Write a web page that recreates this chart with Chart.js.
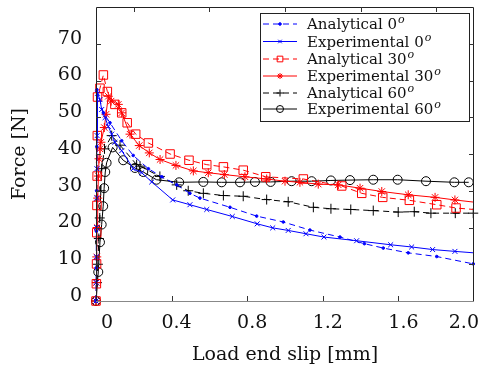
<!DOCTYPE html>
<html>
<head>
<meta charset="utf-8">
<script src="https://cdn.jsdelivr.net/npm/chart.js@4/dist/chart.umd.min.js"></script>
<style>
html,body{margin:0;padding:0;background:#fff;}
#wrap{width:484px;height:373px;position:relative;}
</style>
</head>
<body>
<div id="wrap"><canvas id="c" width="484" height="373"></canvas></div>
<script>
const xTickValues = [0, 0.4, 0.8, 1.2, 1.6, 2.0];
const yTickValues = [0, 10, 20, 30, 40, 50, 60, 70];
const seriesNames = ['Analytical 0', 'Experimental 0', 'Analytical 30', 'Experimental 30', 'Analytical 60', 'Experimental 60'];

const an0Slip  = [0, 0.001, 0.002, 0.003, 0.004, 0.005, 0.039, 0.074, 0.136, 0.197, 0.277, 0.348, 0.427, 0.497, 0.55, 0.709, 0.85, 0.991, 1.132, 1.291, 1.42, 1.52, 1.652, 1.803, 1.996];
const an0Force = [0, 9, 19, 30, 42, 57.5, 51.2, 48.5, 43.6, 39.6, 36.0, 33.8, 31.6, 29.3, 28.0, 25.5, 23.1, 21.5, 19.3, 17.4, 15.6, 14.4, 13.1, 12.1, 10.1];

const ex0Slip  = [0, 0.001, 0.002, 0.003, 0.004, 0.005, 0.006, 0.008, 0.021, 0.03, 0.048, 0.065, 0.083, 0.1, 0.136, 0.197, 0.242, 0.295, 0.406, 0.497, 0.586, 0.721, 0.853, 0.935, 1.017, 1.111, 1.206, 1.379, 1.559, 1.670, 1.781, 1.899, 2.0];
const ex0Force = [0, 5, 12, 20, 28, 36, 45, 56.5, 54.8, 52.1, 49.9, 47.5, 45.4, 43.2, 40.9, 36.0, 34.9, 32.4, 27.5, 26.2, 24.9, 23.0, 21.0, 19.9, 19.2, 18.3, 17.4, 16.4, 15.3, 14.7, 14.0, 13.5, 13.1];

const an30Slip  = [0, 0.002, 0.003, 0.004, 0.005, 0.006, 0.007, 0.008, 0.021, 0.039, 0.06, 0.1, 0.136, 0.165, 0.21, 0.277, 0.392, 0.492, 0.586, 0.674, 0.779, 0.898, 1.097, 1.3, 1.406, 1.517, 1.658, 1.803, 1.905, 2.0];
const an30Force = [0, 4.7, 10.1, 18.6, 26, 34, 45, 55.5, 57.9, 61.5, 57.0, 53.5, 51.2, 48.5, 45.4, 43.0, 40.0, 38.3, 37.1, 36.5, 35.6, 33.8, 33.2, 31.3, 29.3, 28.2, 27.4, 26.2, 25.3, 24.9];

const ex30Slip  = [0, 0.002, 0.004, 0.006, 0.009, 0.013, 0.016, 0.021, 0.026, 0.044, 0.053, 0.065, 0.08, 0.118, 0.136, 0.18, 0.229, 0.282, 0.339, 0.423, 0.515, 0.594, 0.679, 0.788, 0.903, 1.0, 1.079, 1.176, 1.282, 1.397, 1.512, 1.652, 1.794, 1.899, 2.0];
const ex30Force = [0, 5, 12, 20, 28, 34, 38.7, 41.4, 43.2, 47.2, 50.8, 55.7, 54.4, 53.5, 51.2, 45.4, 42.3, 40.3, 38.5, 36.9, 35.4, 34.9, 34.4, 33.8, 33.2, 32.6, 32.3, 31.8, 31.6, 30.7, 29.8, 28.9, 28.2, 27.5, 26.9];

const an60Slip  = [0, 0.005, 0.01, 0.015, 0.02, 0.025, 0.03, 0.045, 0.083, 0.127, 0.215, 0.233, 0.338, 0.427, 0.488, 0.568, 0.674, 0.779, 0.903, 1.017, 1.150, 1.243, 1.348, 1.467, 1.599, 1.684, 1.772, 1.901, 1.996];
const an60Force = [0, 5, 10, 17, 22.6, 30, 36, 41.4, 45, 42.4, 37.1, 36.7, 33.9, 31.6, 30.0, 29.3, 28.7, 28.5, 27.6, 27.0, 25.5, 25.1, 24.9, 24.6, 24.2, 24.3, 23.9, 23.9, 23.9];

const ex60Slip  = [0, 0.012, 0.021, 0.030, 0.038, 0.043, 0.049, 0.056, 0.088, 0.144, 0.206, 0.25, 0.32, 0.44, 0.568, 0.665, 0.762, 0.841, 0.924, 1.035, 1.141, 1.243, 1.344, 1.467, 1.596, 1.746, 1.896, 1.972];
const ex60Force = [0, 7.9, 16, 20.8, 25.8, 30.7, 35.1, 37.6, 41.8, 38.3, 36.2, 35.1, 33.0, 32.3, 32.4, 32.3, 32.3, 32.4, 32.4, 32.6, 32.6, 32.8, 32.9, 33.0, 33.0, 32.6, 32.3, 32.3];

function pts(xs, ys){ return xs.map((x,i)=>({x:x, y:ys[i]})); }
const SERIF = '"DejaVu Serif", serif';
const edgeR = r => (ctx => (ctx.raw && ctx.raw.x >= 2.0 ? 0 : r));

const datasets = [
  {label: seriesNames[0], data: pts(an0Slip, an0Force), borderColor:'#0000ff', backgroundColor:'#0000ff', borderDash:[6,4], pointStyle:'circle', pointRadius: 1.3, borderWidth:1},
  {label: seriesNames[1], data: pts(ex0Slip, ex0Force), borderColor:'#0000ff', backgroundColor:'#0000ff', pointStyle:'crossRot', pointRadius: edgeR(3.5), borderWidth:1},
  {label: seriesNames[2], data: pts(an30Slip, an30Force), borderColor:'#ff0000', backgroundColor:'rgba(0,0,0,0)', borderDash:[6,4], pointStyle:'rect', pointRadius: edgeR(6), borderWidth:1},
  {label: seriesNames[3], data: pts(ex30Slip, ex30Force), borderColor:'#ff0000', backgroundColor:'#ff0000', pointStyle:'star', pointRadius: edgeR(4.5), borderWidth:1},
  {label: seriesNames[4], data: pts(an60Slip, an60Force), borderColor:'#000000', backgroundColor:'#000000', borderDash:[6,4], pointStyle:'cross', pointRadius: 5, borderWidth:1},
  {label: seriesNames[5], data: pts(ex60Slip, ex60Force), borderColor:'#000000', backgroundColor:'rgba(0,0,0,0)', pointStyle:'circle', pointRadius: 4.5, borderWidth:1}
];
datasets.forEach(d => { d.showLine = true; d.fill = false; d.tension = 0; d.clip = false; d.pointBorderWidth = 1; d.pointHoverRadius = d.pointRadius; });

const frame = {
  id: 'frame',
  afterDatasetsDraw(chart){
    const {ctx, scales:{x, y}} = chart;
    const a = {left: x.getPixelForValue(0), right: x.getPixelForValue(2), top: y.getPixelForValue(80), bottom: y.getPixelForValue(0)};
    ctx.save();
    ctx.lineWidth = 1;
    ctx.strokeStyle = '#222';
    ctx.beginPath();
    ctx.moveTo(a.left+0.5, a.bottom); ctx.lineTo(a.left+0.5, a.top+0.5);
    ctx.lineTo(a.right-0.5, a.top+0.5); ctx.lineTo(a.right-0.5, a.bottom);
    ctx.stroke();
    ctx.strokeStyle = '#888';
    ctx.beginPath(); ctx.moveTo(a.left, a.bottom+0.5); ctx.lineTo(a.right, a.bottom+0.5); ctx.stroke();
    ctx.strokeStyle = '#333';
    const L = 5;
    ctx.beginPath();
    yTickValues.forEach(v => {
      if (v === 0) return;
      const py = Math.round(y.getPixelForValue(v)) + 0.5;
      ctx.moveTo(a.left, py); ctx.lineTo(a.left + L, py);
      ctx.moveTo(a.right, py); ctx.lineTo(a.right - L, py);
    });
    xTickValues.forEach(v => {
      if (v === 0 || v === 2) return;
      const px = Math.round(x.getPixelForValue(v)) + 0.5;
      ctx.moveTo(px, a.bottom); ctx.lineTo(px, a.bottom - L);
    });
    xTickValues.forEach(v => {
      if (v === 2) return;
      const px = Math.round(x.getPixelForValue(v + 0.2)) + 0.5;
      ctx.moveTo(px, a.top); ctx.lineTo(px, a.top + L);
    });
    ctx.stroke();
    ctx.restore();
  }
};

const legendBox = {
  id: 'legendBox',
  afterDraw(chart){
    const ctx = chart.ctx;
    const bx = 260, by = 13, bw = 209, bh = 108;
    ctx.save();
    ctx.fillStyle = '#fff';
    ctx.fillRect(bx, by, bw, bh);
    ctx.strokeStyle = '#222'; ctx.lineWidth = 1;
    ctx.strokeRect(bx+0.5, by+0.5, bw, bh);
    const rowY = [24, 41.5, 59, 76, 93, 109];
    const rr = [1.3, 2.5, 4, 3, 3.5, 3.5];
    chart.data.datasets.forEach((d, i) => {
      const yy = rowY[i];
      ctx.save();
      ctx.strokeStyle = d.borderColor; ctx.lineWidth = 1;
      ctx.setLineDash(d.borderDash || []);
      ctx.beginPath(); ctx.moveTo(263, yy); ctx.lineTo(297, yy); ctx.stroke();
      ctx.setLineDash([]);
      ctx.fillStyle = d.backgroundColor;
      Chart.helpers.drawPoint(ctx, {pointStyle: d.pointStyle, radius: rr[i], rotation: 0, borderWidth: 1}, 280, yy);
      ctx.restore();
      ctx.fillStyle = '#111';
      ctx.textBaseline = 'alphabetic';
      ctx.font = '15px ' + SERIF;
      const txt = d.label;
      ctx.fillText(txt, 307, yy + 5);
      const w = ctx.measureText(txt).width;
      ctx.font = 'italic 11px ' + SERIF;
      ctx.fillText('o', 307 + w + 1, yy - 1);
    });
    ctx.restore();
  }
};

new Chart(document.getElementById('c'), {
  type: 'scatter',
  data: {datasets},
  options: {
    responsive: false,
    animation: false,
    events: [],
    layout: {padding: {top: 0.5, right: 10, left: 0, bottom: 0}},
    plugins: {legend: {display: false}, tooltip: {enabled: false}},
    scales: {
      x: {
        type: 'linear', min: 0, max: 2,
        afterBuildTicks: s => { s.ticks = xTickValues.map(v => ({value: v})); },
        afterFit: s => { s.height = 72; s.paddingLeft = 0; s.paddingRight = 0; },
        grid: {display: false, drawTicks: false},
        border: {display: false},
        ticks: {padding: 11, align: 'inner', labelOffset: 5, color: '#111', font: {family: SERIF, size: 19}, maxRotation: 0,
                callback: v => v === 0 ? '0' : v.toFixed(1)},
        title: {display: true, text: 'Load end slip [mm]', color: '#111', font: {family: SERIF, size: 19}, padding: {top: 0, bottom: 7}}
      },
      y: {
        type: 'linear', min: 0, max: 80,
        afterBuildTicks: s => { s.ticks = yTickValues.map(v => ({value: v})); },
        afterFit: s => { s.width = 96; s.paddingTop = 0; s.paddingBottom = 0; },
        grid: {display: false, drawTicks: false},
        border: {display: false},
        ticks: {padding: 14, labelOffset: -5, color: '#111', font: {family: SERIF, size: 19}},
        title: {display: true, text: 'Force [N]', color: '#111', font: {family: SERIF, size: 19}, padding: {top: 9, bottom: 0}}
      }
    }
  },
  plugins: [frame, legendBox]
});
</script>
</body>
</html>
